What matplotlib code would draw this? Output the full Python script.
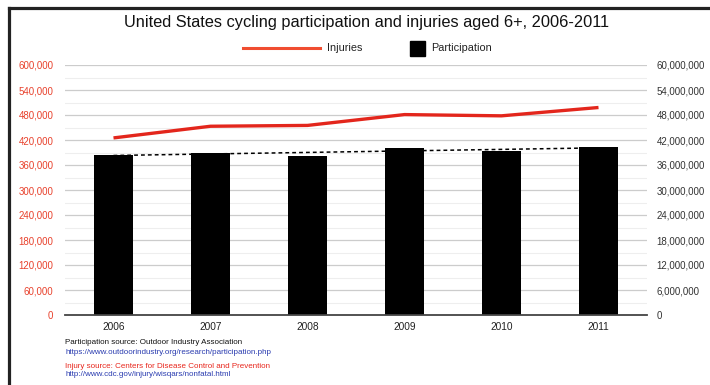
import numpy as np
import matplotlib.pyplot as plt
from matplotlib.lines import Line2D
from matplotlib.patches import Rectangle

plt.rcParams['font.family'] = ['Liberation Sans', 'DejaVu Sans']

years = ['2006', '2007', '2008', '2009', '2010', '2011']
injuries = [425000, 453000, 455000, 481000, 478000, 498000]
participation = [38400000, 38900000, 38100000, 40200000, 39300000, 40300000]

RED = '#e8412c'
LINE_RED = '#e3261c'

W, H = 710, 385
fig = plt.figure(figsize=(W / 100, H / 100), dpi=100)
fig.patch.set_facecolor('white')

# plot area in pixels: x 65..647, y 65..315
ax = fig.add_axes([65 / W, (H - 315) / H, 582 / W, 250 / H])
ax2 = ax.twinx()

x = np.arange(len(years))

# participation bars on the right axis
ax2.bar(x, participation, width=0.4, color='black', zorder=2)
trend = np.polyfit(x, participation, 1)
ax2.plot(x, np.polyval(trend, x), color='black', lw=1.1, ls=(0, (2.5, 2)), zorder=3)

# injuries line on the left axis (drawn above the bars)
ax.set_zorder(ax2.get_zorder() + 1)
ax.patch.set_visible(False)
ax2.patch.set_visible(False)
ax.plot(x, injuries, color=LINE_RED, lw=2.4, solid_capstyle='butt', zorder=4)

ax.set_xlim(-0.5, 5.5)
ax.set_ylim(0, 600000)
ax2.set_ylim(0, 60000000)

ax.set_yticks(np.arange(0, 600001, 60000))
ax.set_yticklabels(['{:,}'.format(v) for v in range(0, 600001, 60000)])
ax2.set_yticks(np.arange(0, 60000001, 6000000))
ax2.set_yticklabels(['{:,}'.format(v) for v in range(0, 60000001, 6000000)])
ax.set_xticks(x)
ax.set_xticklabels(years)

# gridlines drawn on the bar axis so they sit behind the bars
for v in np.arange(3000000, 60000001, 6000000):
    ax2.axhline(v, color='#eeeeee', lw=0.8, zorder=0)
for v in np.arange(6000000, 60000001, 6000000):
    ax2.axhline(v, color='#cccccc', lw=0.9, zorder=0)

for a in (ax, ax2):
    for s in a.spines.values():
        s.set_visible(False)
    a.tick_params(length=0)
ax2.spines['bottom'].set_visible(True)
ax2.spines['bottom'].set_color('#444444')
ax2.spines['bottom'].set_linewidth(1.3)

ax.tick_params(axis='y', labelcolor=RED, labelsize=7.0, pad=8.5)
ax.tick_params(axis='x', labelcolor='#222222', labelsize=7.3, pad=5)
ax2.tick_params(axis='y', labelcolor='#333333', labelsize=7.0, pad=7)

fig.text(366 / W, (H - 22) / H, 'United States cycling participation and injuries aged 6+, 2006-2011',
         ha='center', va='center', fontsize=11.8, color='#111111')

# legend
ly = (H - 48) / H
fig.add_artist(Line2D([243 / W, 320 / W], [ly, ly], color='#f04d30', lw=2.2))
fig.text(327 / W, ly, 'Injuries', ha='left', va='center', fontsize=7.8, color='#222222')
fig.add_artist(Rectangle((410 / W, (H - 56) / H), 15 / W, 15 / H, color='black'))
fig.text(431 / W, ly, 'Participation', ha='left', va='center', fontsize=7.8, color='#222222')

# sources
fig.text(65 / W, (H - 343) / H, 'Participation source: Outdoor Industry Association',
         fontsize=5.8, color='#111111', va='center')
fig.text(65 / W, (H - 352) / H, 'https://www.outdoorindustry.org/research/participation.php',
         fontsize=5.8, color='#2a3cb0', va='center')
fig.text(65 / W, (H - 366) / H, 'Injury source: Centers for Disease Control and Prevention',
         fontsize=5.8, color='#e8261c', va='center')
fig.text(65 / W, (H - 375) / H, 'http://www.cdc.gov/injury/wisqars/nonfatal.html',
         fontsize=5.8, color='#2a3cb0', va='center')

# dark frame along the top and left edge
fig.add_artist(Line2D([8.5 / W, 1], [(H - 8) / H, (H - 8) / H], color='#222222', lw=2.3))
fig.add_artist(Line2D([9 / W, 9 / W], [0, (H - 8) / H], color='#222222', lw=2.3))

fig.savefig('out.png', dpi=100)
